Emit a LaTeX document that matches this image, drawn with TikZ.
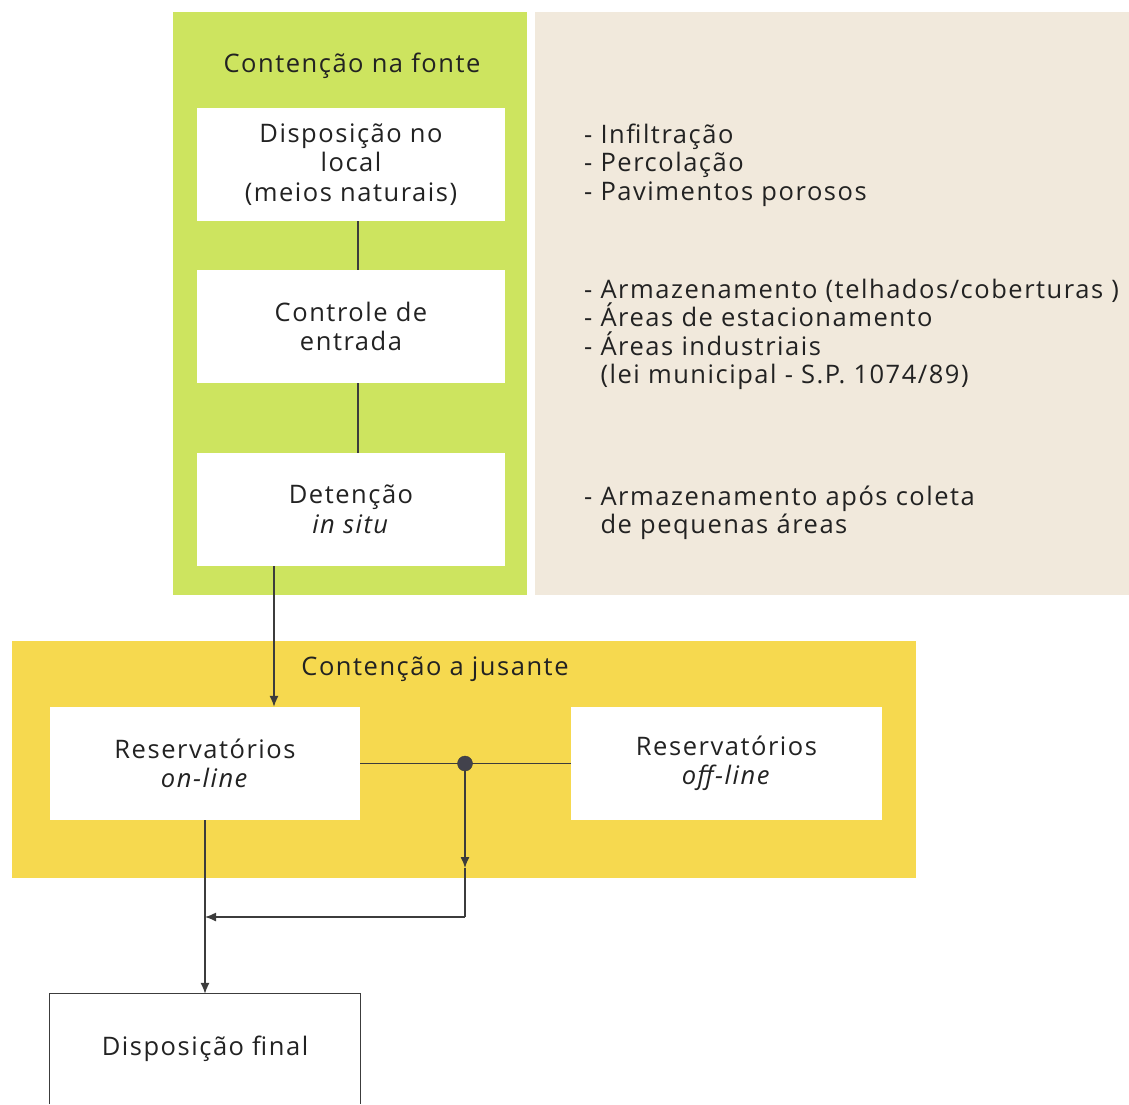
\documentclass[tikz,border=0pt]{standalone}
\usepackage{fontspec}
\setmainfont{Open Sans}[LetterSpace=6]
\usetikzlibrary{arrows.meta,calc}
\definecolor{greenpanel}{RGB}{205,228,95}
\definecolor{yellowpanel}{RGB}{246,217,79}
\definecolor{beigepanel}{RGB}{241,233,220}
\definecolor{ink}{RGB}{34,34,34}
\definecolor{wire}{RGB}{60,60,60}
\definecolor{dotfill}{RGB}{66,66,76}
\begin{document}
\begin{tikzpicture}[x=1pt,y=-1pt,
  every node/.style={font=\fontsize{25.5}{29.5}\selectfont, text=ink},
  wbox/.style={fill=white, minimum width=308pt, minimum height=113pt, inner sep=0pt, align=center},
  list/.style={anchor=base west, align=left, inner sep=0pt, font=\fontsize{25.5}{28.5}\selectfont},
  title/.style={anchor=base, inner sep=0pt},
  conn/.style={draw=wire, line width=1.3pt},
  arr/.style={conn, -{Latex[length=11pt,width=9pt]}},
  junction/.style={circle, fill=dotfill, draw=wire, minimum size=15pt, inner sep=0pt}]
\useasboundingbox (0,0) rectangle (1129,1104);
% panels
\fill[beigepanel] (535,12) rectangle (1129,595);
\fill[greenpanel] (173,12) rectangle (527,595);
\fill[yellowpanel] (12,641) rectangle (916,878);
% titles
\node[title] (tfonte) at (352,72) {Contenção na fonte};
\node[title] (tjus) at (435,675) {Contenção a jusante};
% green boxes
\node[wbox] (d1) at (351,164.5) {Disposição no\\local\\(meios naturais)};
\node[wbox] (d2) at (351,326.5) {Controle de\\entrada};
\node[wbox] (d3) at (351,509.5) {Detenção\\\textit{in situ}};
% lists (base anchor = last line baseline)
\node[list] (l1) at (584,200) {- Infiltração\\- Percolação\\- Pavimentos porosos};
\node[list] (l2) at (584,383.5) {- Armazenamento (telhados/coberturas )\\- Áreas de estacionamento\\- Áreas industriais\\\hphantom{-}\ (lei municipal - S.P. 1074/89)};
\node[list] (l3) at (584,533.5) {- Armazenamento após coleta\\\hphantom{-}\ de pequenas áreas};
% yellow boxes
\node[wbox, minimum width=310pt] (online) at (205,763.5) {Reservatórios\\\textit{on-line}};
\node[wbox, minimum width=311pt] (offline) at (726.5,763.5) {Reservatórios\\\textit{off-line}};
% final box
\node[minimum width=310pt, minimum height=110pt, inner sep=0pt] (final) at (205,1049) {Disposição final};
\draw[conn] (final.south west) |- (final.north) -| (final.south east);
% connectors
\draw[conn] ([xshift=7pt]d1.south) -- ([xshift=7pt]d2.north);
\draw[conn] ([xshift=7pt]d2.south) -- ([xshift=7pt]d3.north);
\draw[arr] ([xshift=-77pt]d3.south) -- ([xshift=69pt]online.north);
\coordinate (j) at (465,763.5);
\coordinate (m) at (465,868);
\coordinate (k) at (465,917);
\draw[conn] (online.east) -- (j);
\draw[conn] (j) -- (offline.west);
\draw[arr] (j) -- (m);
\draw[conn] (m) -- (k);
\draw[arr] (k) -- (online.south |- k);
\draw[arr] (online.south) -- (final.north);
\node[junction] (dot) at (j) {};
\end{tikzpicture}
\end{document}
